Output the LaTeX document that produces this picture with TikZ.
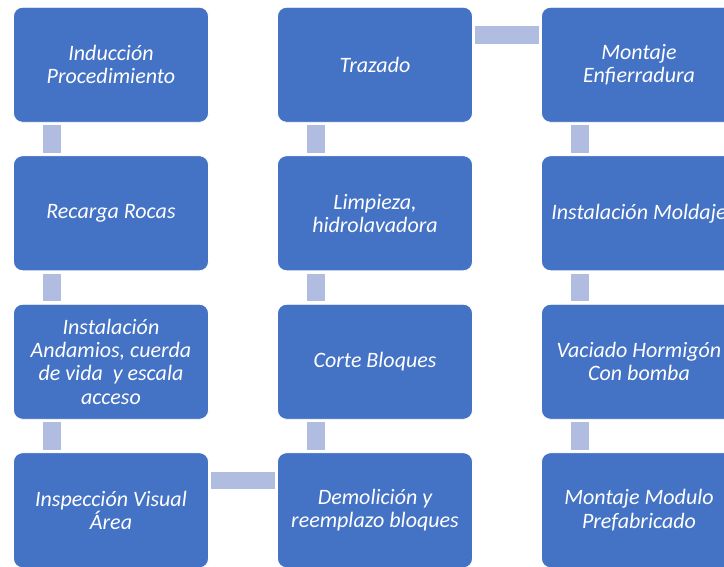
\documentclass[tikz,border=0pt]{standalone}
\usepackage{fontspec}
\setmainfont{Carlito}
\definecolor{boxblue}{HTML}{4472C4}
\definecolor{linkblue}{HTML}{B0BDE0}

\begin{document}
\begin{tikzpicture}[x=1pt, y=-1pt]
% Box style
\tikzset{
    stepbox/.style={rectangle, rounded corners=9pt, fill=boxblue, draw=white, line width=0.8pt,
        minimum width=195pt, minimum height=115pt, inner sep=2pt, align=center,
        text=white, font=\fontsize{22}{23.3}\selectfont\itshape},
    link/.style={draw=linkblue, line width=17.5pt, shorten <=2.5pt, shorten >=2.5pt}
}
\useasboundingbox (0, 0) rectangle (724, 566);
\clip (0, 0) rectangle (724, 566);

% Nodes
\node[stepbox] (ST1) at (111, 64.75) {Inducción\\Procedimiento};
\node[stepbox] (ST2) at (111, 213.25) {Recarga Rocas};
\node[stepbox] (ST3) at (111, 361.75) {Instalación\\Andamios, cuerda\\de vida~ y escala\\acceso};
\node[stepbox] (ST4) at (111, 510.25) {Inspección Visual\\Área};

\node[stepbox] (ST5) at (375, 510.25) {Demolición y\\reemplazo bloques};
\node[stepbox] (ST6) at (375, 361.75) {Corte Bloques};
\node[stepbox] (ST7) at (375, 213.25) {Limpieza,\\hidrolavadora};
\node[stepbox] (ST8) at (375, 64.75) {Trazado};

\node[stepbox] (ST9) at (639, 64.75) {Montaje\\Enfierradura};
\node[stepbox] (ST10) at (639, 213.25) {Instalación Moldaje};
\node[stepbox] (ST11) at (639, 361.75) {Vaciado Hormigón\\Con bomba};
\node[stepbox] (ST12) at (639, 510.25) {Montaje Modulo\\Prefabricado};

% Connections
\draw[link] ([xshift=-59pt]ST1.south) -- ([xshift=-59pt]ST2.north);
\draw[link] ([xshift=-59pt]ST2.south) -- ([xshift=-59pt]ST3.north);
\draw[link] ([xshift=-59pt]ST3.south) -- ([xshift=-59pt]ST4.north);
\draw[link] ([yshift=30pt]ST4.east) -- ([yshift=30pt]ST5.west);

\draw[link] ([xshift=-59pt]ST5.north) -- ([xshift=-59pt]ST6.south);
\draw[link] ([xshift=-59pt]ST6.north) -- ([xshift=-59pt]ST7.south);
\draw[link] ([xshift=-59pt]ST7.north) -- ([xshift=-59pt]ST8.south);
\draw[link] ([yshift=30pt]ST8.east) -- ([yshift=30pt]ST9.west);

\draw[link] ([xshift=-59pt]ST9.south) -- ([xshift=-59pt]ST10.north);
\draw[link] ([xshift=-59pt]ST10.south) -- ([xshift=-59pt]ST11.north);
\draw[link] ([xshift=-59pt]ST11.south) -- ([xshift=-59pt]ST12.north);
\end{tikzpicture}
\end{document}
